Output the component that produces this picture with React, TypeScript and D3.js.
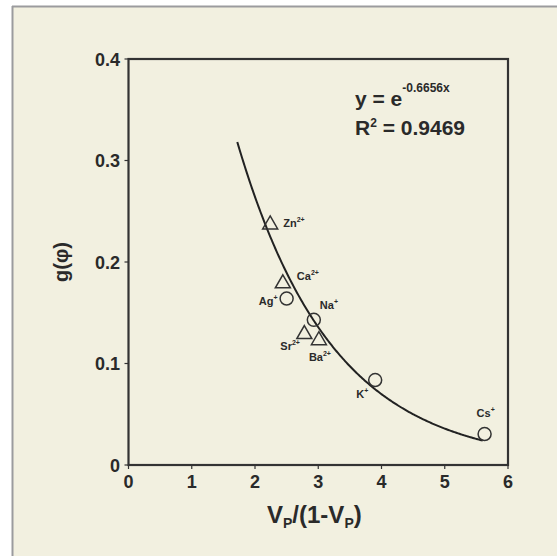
import React from "react";
import * as d3 from "d3";

const ions = ["Zn", "Ca", "Ag", "Na", "Sr", "Ba", "K", "Cs"];
const charges = ["2+", "2+", "+", "+", "2+", "2+", "+", "+"];
const xVals = [2.24, 2.44, 2.5, 2.93, 2.78, 3.01, 3.9, 5.63];
const yVals = [0.238, 0.18, 0.164, 0.143, 0.13, 0.124, 0.0837, 0.0305];
const shapes = ["triangle", "triangle", "circle", "circle", "triangle", "triangle", "circle", "circle"];

const xTicks = [0, 1, 2, 3, 4, 5, 6];
const yTicks = [0, 0.1, 0.2, 0.3, 0.4];
const yTickLabels = ["0", "0.1", "0.2", "0.3", "0.4"];

const fitCoef = -0.6656;
const fitDomain = [1.72, 5.6];

// label layout offsets (pixels, relative to marker)
const labelOffsets: [number, number, string][] = [
  [13, 4, "start"],
  [14, -2, "start"],
  [-9, 6, "end"],
  [6, -11, "start"],
  [-24, 17, "start"],
  [-10, 22, "start"],
  [-19, 18, "start"],
  [-8, -17, "start"],
];

const W = 557;
const H = 556;
const TXT = "#2a2a2a";
const FONT = "'Liberation Sans', Arial, sans-serif";

export default function App() {
  const x = d3.scaleLinear().domain([0, 6]).range([128.5, 508]);
  const y = d3.scaleLinear().domain([0, 0.4]).range([465, 59]);

  const curvePts = d3.range(0, 201).map((i) => {
    const xv = fitDomain[0] + ((fitDomain[1] - fitDomain[0]) * i) / 200;
    return [xv, Math.exp(fitCoef * xv)] as [number, number];
  });
  const line = d3
    .line<[number, number]>()
    .x((d) => x(d[0]))
    .y((d) => y(d[1]))
    .curve(d3.curveLinear);

  const tri = (cx: number, cy: number) =>
    `M${cx},${cy - 7.5}L${cx + 7.5},${cy + 5.5}L${cx - 7.5},${cy + 5.5}Z`;

  return (
    <svg
      width={W}
      height={H}
      style={{ position: "absolute", left: 0, top: 0, fontFamily: FONT }}
    >
      <rect x={0} y={0} width={W} height={H} fill="#ffffff" />
      <rect x={12} y={6} width={W - 12} height={H - 6} fill="#f2f0e0" />
      <line x1={12.5} y1={6} x2={12.5} y2={H} stroke="#9b9b9e" strokeWidth={2} />
      <line x1={12} y1={6.5} x2={W} y2={6.5} stroke="#9b9b9e" strokeWidth={2} />

      {/* frame */}
      <rect
        x={x(0)}
        y={y(0.4)}
        width={x(6) - x(0)}
        height={y(0) - y(0.4)}
        fill="none"
        stroke="#333"
        strokeWidth={2.2}
      />

      {/* x ticks */}
      {xTicks.map((t) => (
        <g key={"xt" + t}>
          <line x1={x(t)} x2={x(t)} y1={y(0)} y2={y(0) + 4} stroke="#333" strokeWidth={1.2} />
          <text
            x={x(t)}
            y={488}
            textAnchor="middle"
            fontSize={18}
            fontWeight="bold"
            fill={TXT}
          >
            {t}
          </text>
        </g>
      ))}

      {/* y ticks */}
      {yTicks.map((t, i) => (
        <g key={"yt" + t}>
          <line x1={x(0) - 4} x2={x(0)} y1={y(t)} y2={y(t)} stroke="#333" strokeWidth={1.2} />
          <text
            x={120}
            y={y(t) + 6.5}
            textAnchor="end"
            fontSize={18}
            fontWeight="bold"
            fill={TXT}
          >
            {yTickLabels[i]}
          </text>
        </g>
      ))}

      {/* axis titles */}
      <text x={267} y={523} fontSize={24} fontWeight="bold" fill={TXT}>
        V
        <tspan fontSize={14} dy={5}>P</tspan>
        <tspan dy={-5}>/(1-V</tspan>
        <tspan fontSize={14} dy={5}>P</tspan>
        <tspan dy={-5}>)</tspan>
      </text>
      <text
        transform="translate(68,262) rotate(-90)"
        textAnchor="middle"
        fontSize={20}
        fontWeight="bold"
        fill={TXT}
      >
        g(φ)
      </text>

      {/* fitted curve */}
      <path d={line(curvePts) || ""} fill="none" stroke="#222" strokeWidth={2} />

      {/* markers */}
      {ions.map((ion, i) => {
        const cx = x(xVals[i]);
        const cy = y(yVals[i]);
        return shapes[i] === "circle" ? (
          <circle key={"m" + ion} cx={cx} cy={cy} r={6.5} fill="none" stroke="#333" strokeWidth={1.5} />
        ) : (
          <path key={"m" + ion} d={tri(cx, cy)} fill="none" stroke="#333" strokeWidth={1.5} />
        );
      })}

      {/* labels */}
      {ions.map((ion, i) => {
        const [dx, dy, anchor] = labelOffsets[i];
        return (
          <text
            key={"l" + ion}
            x={x(xVals[i]) + dx}
            y={y(yVals[i]) + dy}
            textAnchor={anchor as any}
            fontSize={11}
            fontWeight="bold"
            fill={TXT}
          >
            {ion}
            <tspan fontSize={7} dy={-5}>{charges[i]}</tspan>
          </text>
        );
      })}

      {/* equation */}
      <text x={355} y={106} fontSize={21} fontWeight="bold" fill={TXT}>
        y = e
        <tspan fontSize={12} dy={-14}>-0.6656x</tspan>
      </text>
      <text x={355} y={135} fontSize={21} fontWeight="bold" fill={TXT}>
        R
        <tspan fontSize={12} dy={-8}>2</tspan>
        <tspan dy={8}> = 0.9469</tspan>
      </text>
    </svg>
  );
}
